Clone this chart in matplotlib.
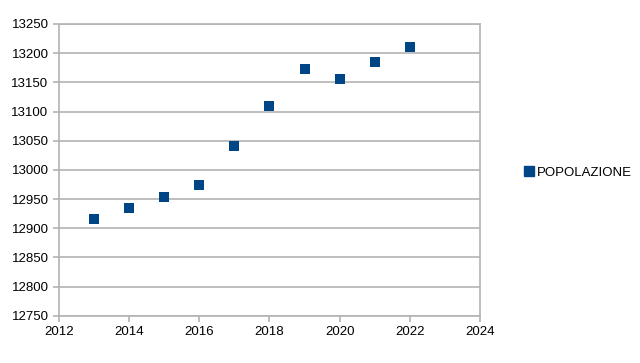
import matplotlib.pyplot as plt
from matplotlib.lines import Line2D

years = [2013, 2014, 2015, 2016, 2017, 2018, 2019, 2020, 2021, 2022]
popolazione = [12915, 12934, 12954, 12974, 13041, 13110, 13173, 13156, 13185, 13210]
series_name = "POPOLAZIONE"

BLUE = "#004586"
GRID = "#b3b3b3"

plt.rcParams["font.family"] = ["Liberation Sans", "DejaVu Sans"]

fig = plt.figure(figsize=(6.4, 3.63), dpi=100)
ax = fig.add_axes([0.092, 0.13, 0.658, 0.804])

ax.scatter(years, popolazione, marker="s", s=56, color=BLUE, zorder=3, linewidths=0)

ax.set_xlim(2012, 2024)
ax.set_ylim(12750, 13250)
ax.set_xticks(range(2012, 2025, 2))
ax.set_yticks(range(12750, 13251, 50))
ax.yaxis.grid(True, color=GRID, linewidth=1.2)
ax.set_axisbelow(True)
for side in ax.spines.values():
    side.set_color(GRID)
    side.set_linewidth(1.2)
ax.tick_params(colors=GRID, labelcolor="black", labelsize=9.5, length=4, width=1.2)

handle = Line2D([], [], marker="s", linestyle="none", color=BLUE, markersize=6.5)
fig.legend([handle], [series_name], loc="center left", bbox_to_anchor=(0.8, 0.525),
           frameon=False, fontsize=9.5, handletextpad=0.2, handlelength=0.8)

fig.savefig("out.png", dpi=100)
